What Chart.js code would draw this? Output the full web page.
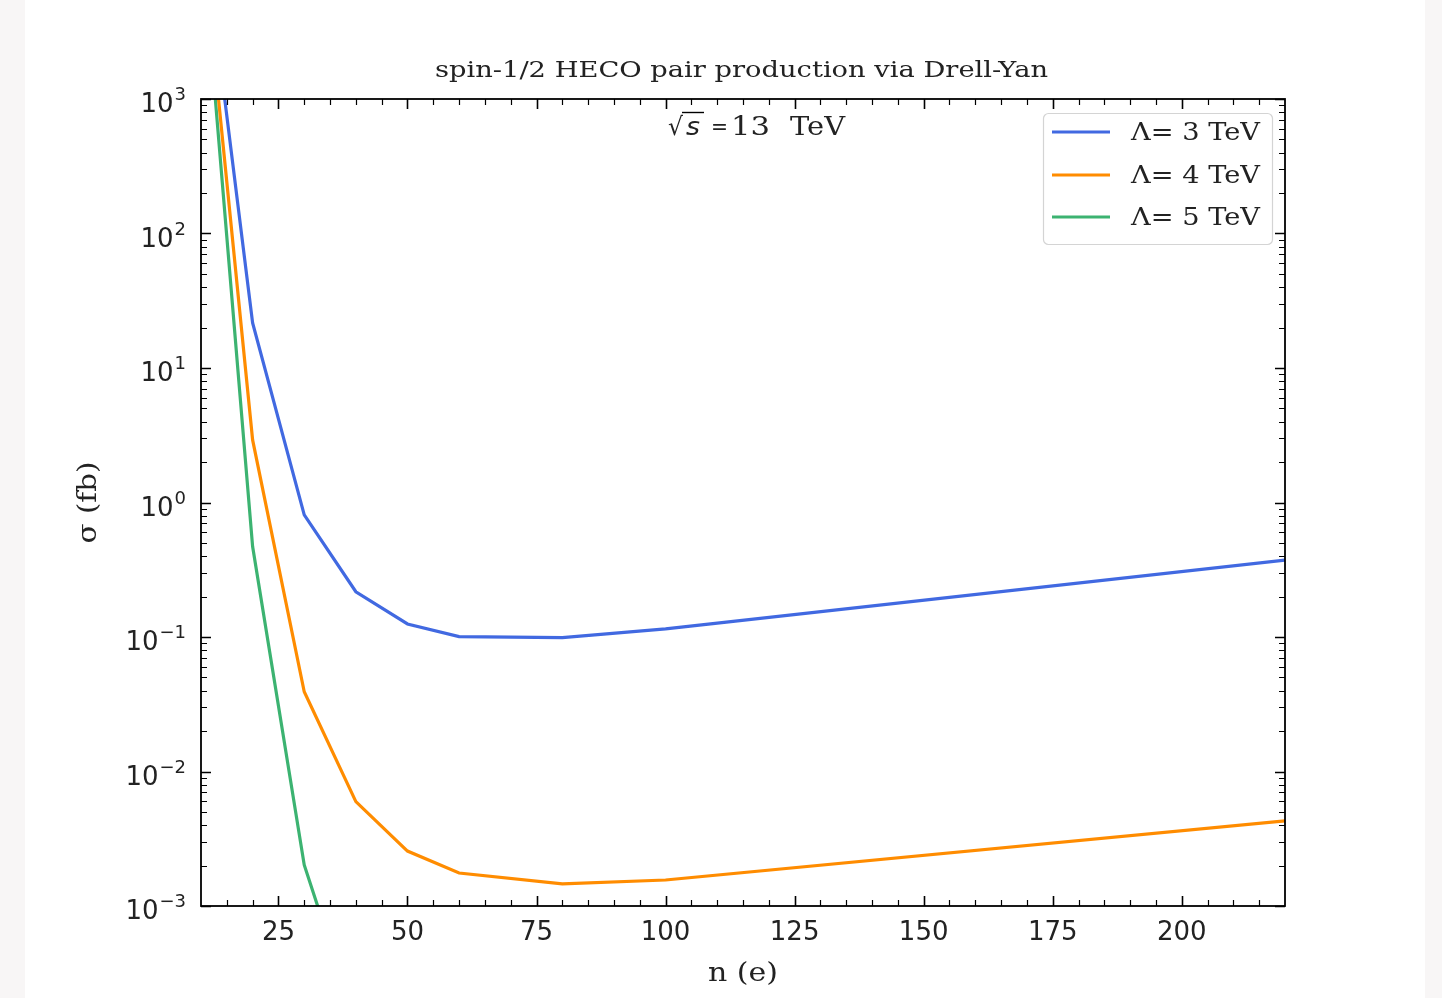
<!DOCTYPE html>
<html>
<head>
<meta charset="utf-8">
<script src="https://cdn.jsdelivr.net/npm/chart.js@4.4.1/dist/chart.umd.min.js"></script>
<style>
  html, body { margin: 0; padding: 0; background: #f8f6f6; }
  #wrap { position: absolute; left: 0; top: 0; width: 1442px; height: 998px; }
</style>
</head>
<body>
<div id="wrap"><canvas id="graph" width="1442" height="998"></canvas></div>
<script>
// data
var nVals  = [10, 20, 30, 40, 50, 60, 80, 100, 220];
var sigL3  = [2.6e4, 21.6, 0.81, 0.217, 0.125, 0.1007, 0.099, 0.115, 0.373];
var sigL4  = [2.0e4, 2.92, 0.0392, 0.00597, 0.00256, 0.00176, 0.00146, 0.00156, 0.0043];
var nValsL5 = [10, 20, 30, 40];
var sigL5  = [1.9e4, 0.47, 0.00202, 1.35e-4];

var seriesLabels = ['\u039b= 3 TeV', '\u039b= 4 TeV', '\u039b= 5 TeV'];
var seriesColors = ['#4169e1', '#ff8c00', '#3cb371'];

var xMajor = [25, 50, 75, 100, 125, 150, 175, 200];
var xMinor = [15, 20, 30, 35, 40, 45, 55, 60, 65, 70, 80, 85, 90, 95, 105, 110, 115, 120,
              130, 135, 140, 145, 155, 160, 165, 170, 180, 185, 190, 195, 205, 210, 215];
var yExps  = [-3, -2, -1, 0, 1, 2, 3];

var SERIF = "'DejaVu Serif', serif";
var SANS = "'DejaVu Sans', sans-serif";

function toPts(xs, ys) {
	return xs.map(function(x, i) { return { x: x, y: ys[i] }; });
}

// draw text stretched to a given width (the reference serif is wider than DejaVu Serif)
function fitText(c, txt, x, y, w, align) {
	var m = c.measureText(txt).width;
	var k = w / m;
	var x0 = align === 'center' ? x - w / 2 : x;
	c.save();
	c.textAlign = 'left';
	c.translate(x0, y);
	c.scale(k, 1);
	c.fillText(txt, 0, 0);
	c.restore();
}

var axesPlugin = {
	id: 'mplAxes',
	beforeDraw: function(chart) {
		var c = chart.ctx;
		c.save();
		c.fillStyle = '#ffffff';
		c.fillRect(25, 0, 1400, chart.height);
		c.restore();
	},
	afterDraw: function(chart) {
		var c = chart.ctx;
		var a = chart.chartArea;
		var xs = chart.scales.x, ys = chart.scales.y;
		c.save();

		// ticks (inward, all four sides)
		c.strokeStyle = '#000';
		function tickX(v, len, w) {
			var px = Math.round(xs.getPixelForValue(v)) + 0.5;
			c.lineWidth = w;
			c.beginPath();
			c.moveTo(px, a.bottom); c.lineTo(px, a.bottom - len);
			c.moveTo(px, a.top); c.lineTo(px, a.top + len);
			c.stroke();
		}
		function tickY(v, len, w) {
			var py = Math.round(ys.getPixelForValue(v)) + 0.5;
			c.lineWidth = w;
			c.beginPath();
			c.moveTo(a.left, py); c.lineTo(a.left + len, py);
			c.moveTo(a.right, py); c.lineTo(a.right - len, py);
			c.stroke();
		}
		xMajor.forEach(function(v) { tickX(v, 10, 1.6); });
		xMinor.forEach(function(v) { tickX(v, 6, 1.2); });
		yExps.forEach(function(e, i) {
			tickY(Math.pow(10, e), 10, 1.6);
			if (i < yExps.length - 1) {
				for (var k = 2; k <= 9; k++) tickY(k * Math.pow(10, e), 6, 1.2);
			}
		});

		// frame
		c.lineWidth = 1.8;
		c.strokeRect(a.left, a.top, a.right - a.left, a.bottom - a.top);

		// x tick labels
		c.fillStyle = '#222';
		c.font = '26px ' + SANS;
		c.textAlign = 'center';
		c.textBaseline = 'alphabetic';
		xMajor.forEach(function(v) {
			c.fillText(String(v), xs.getPixelForValue(v), 940);
		});

		// y tick labels 10^e
		yExps.forEach(function(e) {
			var py = ys.getPixelForValue(Math.pow(10, e));
			var ex = String(e).replace('-', '\u2212');
			c.font = '18px ' + SANS;
			c.textAlign = 'right';
			var ew = c.measureText(ex).width;
			c.fillText(ex, 186, py + 1);
			c.font = '26px ' + SANS;
			c.fillText('10', 186 - ew - 1, py + 13);
		});

		// axis labels
		c.font = '26px ' + SERIF;
		fitText(c, 'n (e)', (a.left + a.right) / 2, 981, 70, 'center');
		c.save();
		c.translate(96, (a.top + a.bottom) / 2);
		c.rotate(-Math.PI / 2);
		fitText(c, '\u03c3 (fb)', 0, 0, 82, 'center');
		c.restore();

		// title
		c.font = '23px ' + SERIF;
		fitText(c, 'spin-1/2 HECO pair production via Drell-Yan', 741.5, 77, 613, 'center');

		// sqrt(s) annotation
		var by = 135;
		c.textAlign = 'left';
		c.font = '25px ' + SANS;
		fitText(c, '\u221a', 668, by, 15, 'left');
		c.font = 'italic 25px ' + SANS;
		fitText(c, 's', 686, by, 14, 'left');
		c.lineWidth = 1.4;
		c.beginPath();
		c.moveTo(682, 112.5); c.lineTo(704, 112.5);
		c.stroke();
		c.font = '22px ' + SANS;
		fitText(c, '=', 711, by - 1, 17, 'left');
		c.font = '26px ' + SERIF;
		fitText(c, '13', 731, by, 39, 'left');
		fitText(c, 'TeV', 790, by, 55, 'left');

		// legend
		var lx = 1043, ly = 113, lw = 229, lh = 131;
		c.fillStyle = 'rgba(255,255,255,0.85)';
		c.strokeStyle = '#d4d4d4';
		c.lineWidth = 1.2;
		c.beginPath();
		c.roundRect(lx + 0.5, ly + 0.5, lw, lh, 5);
		c.fill(); c.stroke();
		var rows = [132, 175, 217];
		chart.data.datasets.forEach(function(ds, i) {
			c.strokeStyle = ds.borderColor;
			c.lineWidth = 3;
			c.beginPath();
			c.moveTo(1052, rows[i]); c.lineTo(1110, rows[i]);
			c.stroke();
			c.fillStyle = '#222';
			c.font = '25px ' + SERIF;
			c.textBaseline = 'middle';
			fitText(c, ds.label, 1131, rows[i] + 1, 129, 'left');
		});

		c.restore();
	}
};

new Chart(document.getElementById('graph').getContext('2d'), {
	type: 'line',
	data: {
		datasets: [
			{ label: seriesLabels[0], data: toPts(nVals, sigL3), borderColor: seriesColors[0] },
			{ label: seriesLabels[1], data: toPts(nVals, sigL4), borderColor: seriesColors[1] },
			{ label: seriesLabels[2], data: toPts(nValsL5, sigL5), borderColor: seriesColors[2] }
		].map(function(ds) {
			ds.borderWidth = 3.2;
			ds.pointRadius = 0;
			ds.tension = 0;
			ds.fill = false;
			ds.clip = 0;
			return ds;
		})
	},
	options: {
		animation: false,
		responsive: false,
		maintainAspectRatio: false,
		layout: { padding: { left: 201, right: 157, top: 99, bottom: 92 } },
		scales: {
			x: { type: 'linear', min: 10, max: 220, display: false },
			y: { type: 'logarithmic', min: 1e-3, max: 1e3, display: false }
		},
		plugins: {
			legend: { display: false },
			title: { display: false },
			tooltip: { enabled: false }
		}
	},
	plugins: [axesPlugin]
});
</script>
</body>
</html>
